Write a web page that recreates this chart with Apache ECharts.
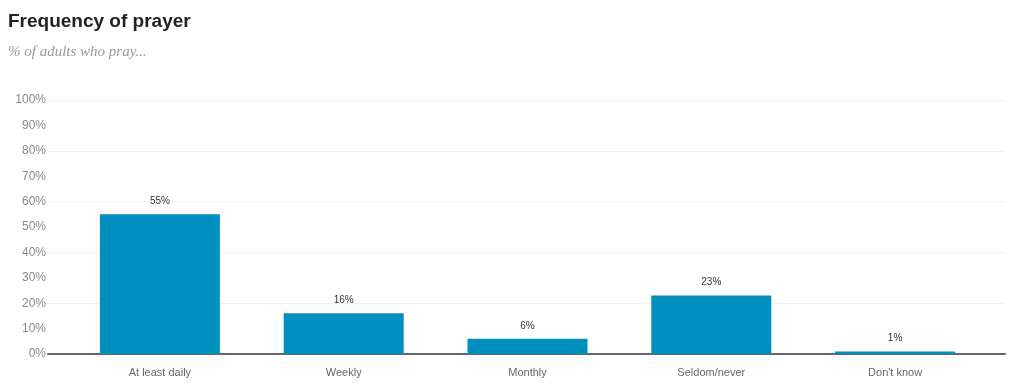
<!DOCTYPE html>
<html><head><meta charset="utf-8">
<script src="https://cdn.jsdelivr.net/npm/echarts@6/dist/echarts.min.js"></script>
<style>html,body{margin:0;padding:0;background:#fff}#c{width:1024px;height:390px}</style>
</head><body><div id="c"></div>
<script>
var categories = ['At least daily', 'Weekly', 'Monthly', 'Seldom/never', "Don't know"];
var values = [55, 16, 6, 23, 1];
var yTicks = [0, 10, 20, 30, 40, 50, 60, 70, 80, 90, 100];

var chart = echarts.init(document.getElementById('c'));
chart.setOption({
  animation: false,
  backgroundColor: '#fff',
  title: [
    {text: 'Frequency of prayer', left: 3, top: 7,
     textStyle: {fontFamily: 'Liberation Sans, Arial, sans-serif', fontWeight: 'bold', fontSize: 19, color: '#222'}},
    {text: '% of adults who pray...', left: 3, top: 40,
     textStyle: {fontFamily: 'Liberation Serif, Georgia, serif', fontStyle: 'italic', fontWeight: 'normal', fontSize: 15, color: '#999'}}
  ],
  grid: [
    {left: 48, right: 19, top: 100, bottom: 36},
    {left: 68, right: 37, top: 100, bottom: 36}
  ],
  xAxis: [
    {type: 'category', gridIndex: 0, data: categories, axisLine: {show: true, lineStyle: {color: '#666', width: 2}},
     axisTick: {show: false}, axisLabel: {show: false}},
    {type: 'category', gridIndex: 1, data: categories, axisLine: {show: false}, axisTick: {show: false},
     axisLabel: {color: '#666', fontSize: 11, fontFamily: 'Liberation Sans, Arial, sans-serif', margin: 13}}
  ],
  yAxis: [
    {type: 'value', gridIndex: 0, min: yTicks[0], max: yTicks[yTicks.length - 1], interval: 10,
     axisLine: {show: false}, axisTick: {show: false}, splitLine: {show: false},
     axisLabel: {formatter: '{value}%', color: '#888', fontSize: 12, margin: 2, fontFamily: 'Liberation Sans, Arial, sans-serif'}},
    {type: 'value', gridIndex: 0, min: 0, max: 100, interval: 20, position: 'left',
     axisLine: {show: false}, axisTick: {show: false}, axisLabel: {show: false},
     splitLine: {show: true, lineStyle: {color: '#f0f0f0', width: 1}}},
    {type: 'value', gridIndex: 1, min: 0, max: 100, show: false}
  ],
  series: [{
    type: 'bar', xAxisIndex: 1, yAxisIndex: 2, data: values, barWidth: 120,
    itemStyle: {color: '#008fbe'},
    label: {show: true, position: 'top', distance: 8, formatter: '{c}%', color: '#333', fontSize: 10,
      fontFamily: 'Liberation Sans, Arial, sans-serif'}
  }]
});
</script></body></html>
